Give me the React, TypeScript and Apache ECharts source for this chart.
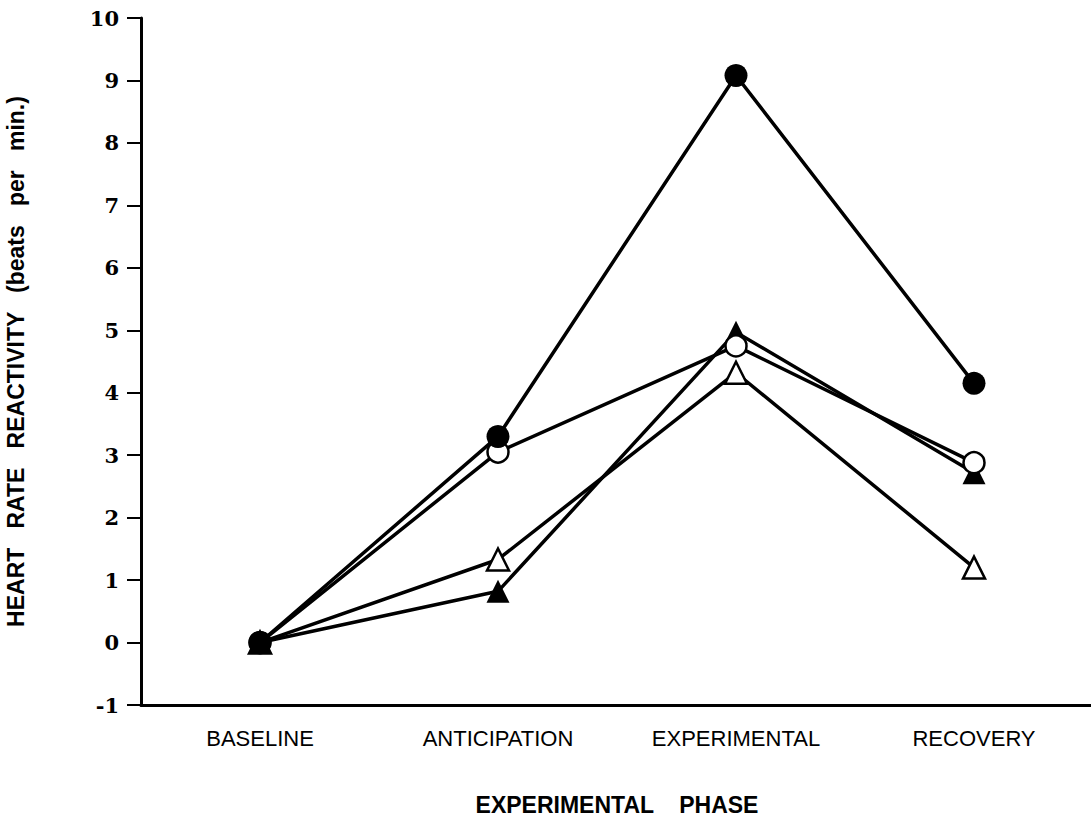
import React, { useEffect, useRef } from "react";
import * as echarts from "echarts";

const categories = ["BASELINE", "ANTICIPATION", "EXPERIMENTAL", "RECOVERY"];
const filledCircle = [0, 3.3, 9.08, 4.15];
const openCircle = [0, 3.05, 4.75, 2.88];
const filledTriangle = [0, 0.82, 4.97, 2.72];
const openTriangle = [0, 1.33, 4.32, 1.2];
const yTicks = [-1, 10, 1];

export default function App() {
  const ref = useRef<HTMLDivElement>(null);
  useEffect(() => {
    const chart = echarts.init(ref.current!, null, { renderer: "svg" });
    const mk = (name: string, data: number[], symbol: string, filled: boolean, size: number, z: number) => ({
      name,
      type: "line",
      data,
      symbol,
      symbolSize: size,
      z,
      lineStyle: { color: "#000", width: 3.5 },
      itemStyle: { color: filled ? "#000" : "#fff", borderColor: "#000", borderWidth: filled ? 0 : 2.5 },
      emphasis: { disabled: true },
    });
    chart.setOption({
      animation: false,
      backgroundColor: "#fff",
      grid: { left: 141, right: -2, top: 18, bottom: 132, outerBoundsMode: "none", containLabel: false },
      xAxis: {
        type: "category",
        data: categories,
        boundaryGap: true,
        name: "EXPERIMENTAL    PHASE",
        nameLocation: "middle",
        nameGap: 88,
        nameTextStyle: { fontFamily: "Liberation Sans", fontWeight: "bold", fontSize: 23, color: "#000" },
        axisLine: { onZero: false, lineStyle: { color: "#000", width: 3 } },
        axisTick: { alignWithLabel: true, length: 8, lineStyle: { color: "#000", width: 2 } },
        axisLabel: { fontFamily: "Liberation Sans", fontSize: 22, color: "#000", margin: 22 },
      },
      yAxis: {
        type: "value",
        min: yTicks[0],
        max: yTicks[1],
        interval: yTicks[2],
        name: "HEART   RATE   REACTIVITY   (beats   per   min.)",
        nameLocation: "middle",
        nameGap: 114,
        nameTextStyle: { fontFamily: "Liberation Sans", fontWeight: "bold", fontSize: 23, color: "#000" },
        splitLine: { show: false },
        axisLine: { show: true, lineStyle: { color: "#000", width: 3 } },
        axisTick: { show: true, length: 14, lineStyle: { color: "#000", width: 2 } },
        axisLabel: { fontFamily: "DejaVu Serif", fontWeight: "bold", fontSize: 21, color: "#000", margin: 22 },
      },
      series: [
        mk("filledCircle", filledCircle, "circle", true, 23, 4),
        mk("openCircle", openCircle, "circle", false, 21, 3),
        mk("filledTriangle", filledTriangle, "triangle", true, 23, 2),
        mk("openTriangle", openTriangle, "triangle", false, 22, 1),
      ],
    });
    return () => chart.dispose();
  }, []);
  return <div ref={ref} style={{ position: "fixed", left: 0, top: 0, width: 1091, height: 837 }} />;
}
